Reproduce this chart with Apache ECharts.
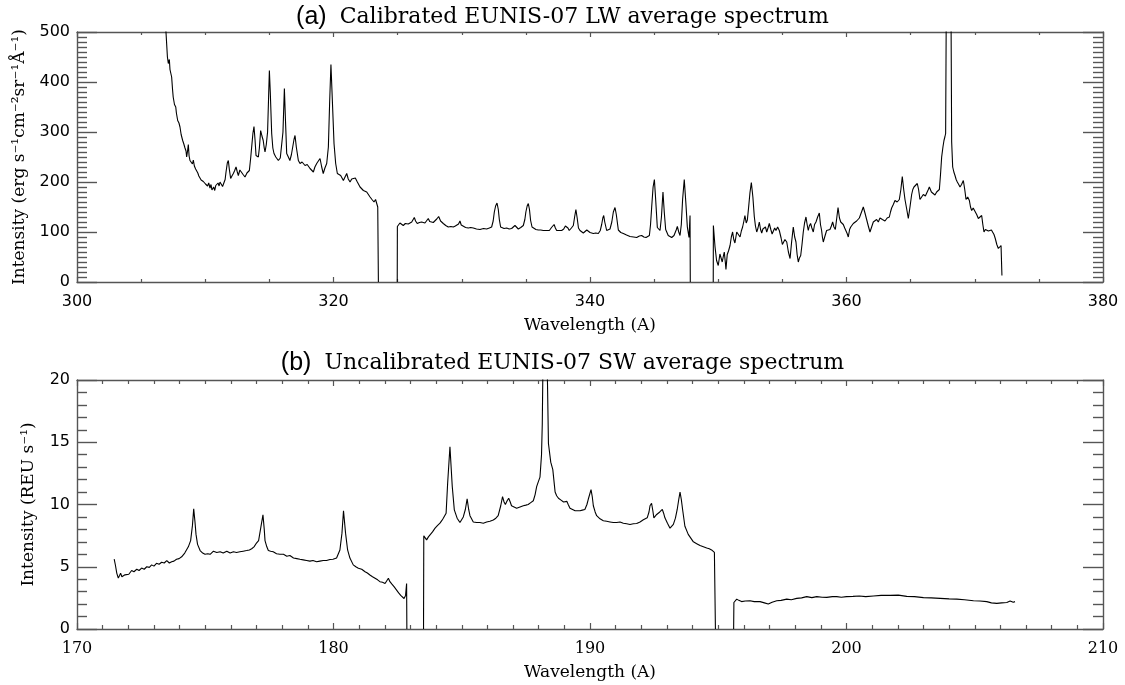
<!DOCTYPE html>
<html>
<head>
<meta charset="utf-8">
<script src="https://cdn.jsdelivr.net/npm/echarts@6/dist/echarts.min.js"></script>
<style>html,body{margin:0;padding:0;background:#fff;}#c{width:1125px;height:685px;}</style>
</head>
<body>
<div id="c"></div>
<script>
// ---------- Panel (a): calibrated LW spectrum ----------
const lwWave = [
306.80,306.94,307.05,307.12,307.20,307.25,307.38,307.45,307.50,307.60,307.70,307.75,307.85,307.95,308.03,308.12,308.24,308.33,308.42,308.50,
308.55,308.62,308.68,308.74,308.81,308.90,309.00,309.07,309.15,309.25,309.33,309.42,309.50,309.59,309.68,309.77,309.85,309.93,310.02,310.10,
310.18,310.27,310.37,310.45,310.52,310.58,310.66,310.74,310.82,310.90,311.00,311.08,311.15,311.25,311.35,311.46,311.55,311.62,311.72,311.80,
311.88,311.98,312.08,312.19,312.28,312.40,312.50,312.58,312.70,312.84,312.95,313.10,313.25,313.44,313.55,313.62,313.72,313.80,313.88,313.96,
314.05,314.14,314.22,314.32,314.42,314.52,314.60,314.66,314.76,314.86,314.94,315.00,315.07,315.18,315.27,315.36,315.50,315.70,315.85,315.96,
316.06,316.17,316.26,316.35,316.48,316.60,316.72,316.82,316.92,317.00,317.10,317.26,317.39,317.55,317.78,317.95,318.17,318.30,318.43,318.55,
318.69,318.82,318.95,319.08,319.20,319.33,319.47,319.60,319.70,319.80,319.90,320.04,320.17,320.30,320.43,320.56,320.66,320.77,320.90,321.03,
321.15,321.29,321.42,321.55,321.70,321.86,321.96,322.07,322.20,322.33,322.45,322.59,322.72,322.85,323.00,323.16,323.28,323.37,323.45,323.50,
324.20,324.97,324.98,325.18,325.30,325.44,325.60,325.83,325.96,326.10,326.20,326.30,326.40,326.53,326.70,326.87,327.00,327.13,327.26,327.39,
327.50,327.65,327.78,327.90,328.05,328.20,328.35,328.56,328.75,328.95,329.15,329.34,329.50,329.62,329.75,329.86,329.96,330.07,330.30,330.51,
330.70,330.90,331.15,331.42,331.70,331.94,332.15,332.33,332.45,332.54,332.64,332.75,332.85,332.93,333.03,333.11,333.30,333.50,333.70,333.89,
334.02,334.15,334.28,334.41,334.60,334.80,334.92,335.00,335.10,335.19,335.28,335.37,335.48,335.58,335.78,335.97,336.16,336.36,336.60,336.83,
336.92,337.00,337.10,337.20,337.30,337.40,337.60,337.79,337.95,338.08,338.18,338.28,338.38,338.55,338.70,338.80,338.90,339.00,339.10,339.22,
339.35,339.48,339.62,339.75,339.87,340.00,340.26,340.45,340.65,340.80,340.91,341.00,341.07,341.15,341.30,341.45,341.56,341.70,341.82,341.95,
342.05,342.21,342.40,342.60,342.85,343.12,343.40,343.64,343.85,344.03,344.20,344.37,344.50,344.63,344.72,344.81,344.92,345.02,345.12,345.25,
345.36,345.46,345.57,345.69,345.79,345.90,346.10,346.37,346.55,346.63,346.72,346.81,346.92,347.02,347.12,347.22,347.35,347.47,347.59,347.72,
347.80,347.82,348.70,349.61,349.62,349.75,349.87,350.00,350.13,350.22,350.31,350.40,350.47,350.55,350.60,350.70,350.80,350.92,351.02,351.12,
351.21,351.30,351.44,351.55,351.70,351.80,351.90,352.00,352.08,352.18,352.27,352.37,352.47,352.58,352.70,352.81,352.90,353.00,353.10,353.20,
353.30,353.39,353.48,353.57,353.68,353.78,353.88,353.98,354.10,354.20,354.29,354.40,354.50,354.63,354.76,354.90,355.00,355.07,355.20,355.34,
355.47,355.60,355.72,355.85,355.96,356.06,356.15,356.24,356.33,356.43,356.53,356.63,356.73,356.84,356.93,357.02,357.10,357.20,357.30,357.41,
357.51,357.62,357.75,357.88,357.97,358.06,358.12,358.19,358.30,358.45,358.58,358.71,358.82,358.92,359.02,359.13,359.24,359.34,359.45,359.55,
359.65,359.75,359.86,359.96,360.05,360.14,360.24,360.33,360.43,360.53,360.66,360.79,360.92,361.00,361.10,361.20,361.31,361.44,361.57,361.70,
361.83,361.96,362.09,362.22,362.35,362.48,362.61,362.80,363.00,363.17,363.34,363.43,363.52,363.65,363.78,363.95,364.12,364.24,364.35,364.46,
364.56,364.70,364.82,364.95,365.08,365.17,365.26,365.40,365.52,365.62,365.73,365.86,365.99,366.15,366.30,366.38,366.46,366.62,366.77,366.90,
367.03,367.14,367.24,367.33,367.42,367.52,367.60,367.67,367.73,367.85,368.08,368.20,368.28,368.37,368.46,368.55,368.64,368.75,368.85,368.97,
369.11,369.22,369.32,369.45,369.58,369.67,369.76,369.88,370.02,370.15,370.28,370.41,370.54,370.63,370.72,370.83,370.93,371.06,371.19,371.30,
371.40,371.50,371.60,371.72,371.84,371.95,372.05,372.12
];
const lwFlux = [
560,499,450,437,445,425,410,385,370,355,350,338,323,318,310,295,283,276,268,262,
250,262,275,252,243,240,236,244,232,226,223,218,212,210,204,208,201,205,196,200,
192,198,188,195,184,180,190,183,193,190,198,192,200,196,191,187,205,220,238,243,
225,207,212,217,222,230,220,213,224,227,215,210,218,223,250,270,298,311,285,253,
255,250,268,303,292,283,268,260,275,300,370,423,380,297,268,257,250,243,248,250,
300,387,320,257,250,243,255,270,285,293,270,243,237,240,233,235,227,224,220,230,
237,240,247,230,217,228,237,270,360,435,370,277,237,217,220,213,210,203,210,217,
206,200,206,203,208,200,196,190,188,183,185,180,176,170,165,160,165,163,150,0,
null,0,111,118,114,113,117,116,114,120,124,129,122,117,119,120,116,118,122,127,
121,118,119,121,126,131,122,117,113,110,111,110,112,111,116,122,114,110,109,108,
109,108,106,105,107,106,108,110,122,140,152,158,145,125,110,106,107,108,106,107,
110,113,109,106,109,113,125,140,152,157,145,123,110,106,105,104,104,103,103,103,
106,109,113,115,108,103,103,103,106,112,116,108,103,108,113,130,145,128,108,103,
99,98,101,104,103,99,97,98,97,103,115,128,133,120,103,103,106,120,140,149,
135,104,99,97,94,91,90,89,92,93,90,89,91,93,115,150,190,205,165,109,
105,103,130,180,140,105,93,89,93,96,104,111,100,93,115,165,205,160,110,89,
133,0,null,0,113,70,43,33,56,48,40,52,60,40,25,55,62,73,90,100,
85,78,100,96,90,102,110,122,133,118,124,150,178,199,170,131,112,100,108,120,
105,98,106,103,110,100,108,117,105,96,98,108,103,110,103,88,75,73,85,80,
60,47,80,110,90,80,55,40,48,53,75,100,118,130,115,103,112,117,108,100,
115,120,130,138,115,103,90,80,90,103,100,105,112,120,110,105,128,149,128,120,
117,115,108,105,97,90,105,110,113,117,120,122,125,128,135,142,150,138,125,112,
100,110,120,118,125,120,128,125,122,128,130,140,148,155,163,160,165,185,211,185,
165,145,127,150,175,185,190,193,197,185,165,170,175,172,175,185,190,180,178,174,
180,176,185,215,250,270,283,290,297,900,900,280,230,220,213,205,200,195,190,195,
203,185,165,170,163,150,143,148,145,135,127,130,133,115,100,105,107,102,100,104,
107,95,87,75,67,70,73,13
];
const lwXRange = [300, 380];
const lwYRange = [0, 500];

// ---------- Panel (b): uncalibrated SW spectrum ----------
const swWave = [
171.45,171.50,171.55,171.61,171.66,171.70,171.75,171.80,171.87,171.94,172.02,172.13,172.22,172.33,172.42,172.52,172.62,172.72,172.82,172.91,
173.00,173.10,173.20,173.30,173.40,173.50,173.60,173.69,173.78,173.88,173.98,174.08,174.20,174.34,174.43,174.50,174.55,174.60,174.64,174.70,
174.80,174.90,174.99,175.10,175.19,175.32,175.45,175.58,175.70,175.84,175.97,176.10,176.22,176.35,176.48,176.61,176.72,176.81,176.90,176.98,
177.08,177.17,177.25,177.30,177.33,177.40,177.46,177.55,177.65,177.78,177.91,178.05,178.18,178.30,178.44,178.57,178.69,178.82,178.95,179.08,
179.20,179.34,179.47,179.60,179.73,179.86,179.98,180.12,180.25,180.33,180.39,180.47,180.55,180.64,180.77,180.87,180.97,181.10,181.23,181.32,
181.42,181.52,181.62,181.72,181.81,181.91,182.01,182.08,182.14,182.20,182.27,182.36,182.46,182.54,182.62,182.69,182.75,182.81,182.85,182.86,
183.20,183.51,183.52,183.63,183.70,183.76,183.86,183.96,184.05,184.15,184.22,184.28,184.39,184.45,184.54,184.63,184.71,184.82,184.93,185.06,
185.14,185.21,185.27,185.32,185.45,185.58,185.71,185.84,185.97,186.10,186.23,186.33,186.42,186.52,186.59,186.65,186.70,186.77,186.83,186.89,
186.94,187.04,187.14,187.27,187.40,187.50,187.59,187.69,187.79,187.86,187.92,187.98,188.05,188.11,188.14,188.18,188.31,188.38,188.47,188.55,
188.60,188.64,188.70,188.77,188.87,188.97,189.04,189.10,189.15,189.22,189.32,189.42,189.52,189.61,189.70,189.80,189.88,189.93,190.04,190.09,
190.13,190.20,190.26,190.39,190.52,190.65,190.78,190.91,191.04,191.17,191.30,191.43,191.56,191.69,191.82,191.95,192.08,192.23,192.30,192.34,
192.40,192.45,192.49,192.55,192.60,192.72,192.82,192.87,192.92,193.02,193.12,193.25,193.33,193.40,193.46,193.51,193.56,193.61,193.70,193.83,
193.93,194.03,194.16,194.29,194.42,194.55,194.65,194.74,194.80,194.85,194.89,195.20,195.60,195.61,195.72,195.80,195.91,196.05,196.24,196.40,
196.63,196.80,196.95,197.10,197.28,197.45,197.67,197.85,198.06,198.25,198.45,198.65,198.84,199.05,199.23,199.45,199.62,199.80,200.00,200.25,
200.50,200.75,201.05,201.35,201.70,202.02,202.35,202.65,203.00,203.30,203.65,204.00,204.30,204.60,204.95,205.20,205.47,205.65,205.86,206.05,
206.25,206.38,206.44,206.50,206.57
];
const swFlux = [
5.61,5.1,4.49,4.09,4.3,4.49,4.2,4.09,4.35,4.49,4.4,4.7,4.6,4.8,4.7,4.89,4.8,5.0,4.95,5.15,
5.05,5.28,5.2,5.36,5.3,5.5,5.3,5.4,5.45,5.6,5.65,5.8,6.1,6.6,7.1,8.3,9.65,8.6,7.6,6.8,
6.3,6.1,6.0,6.05,6.0,6.25,6.15,6.2,6.1,6.25,6.1,6.2,6.15,6.2,6.25,6.3,6.35,6.45,6.6,6.85,
7.1,8.2,9.17,8.0,7.1,6.6,6.3,6.25,6.2,6.05,6.0,6.0,5.85,5.9,5.7,5.65,5.6,5.55,5.5,5.45,
5.5,5.4,5.45,5.5,5.5,5.58,5.6,5.7,6.35,7.7,9.5,7.7,6.35,5.7,5.15,5.0,4.88,4.8,4.6,4.5,
4.34,4.2,4.08,3.95,3.8,3.75,3.66,3.8,4.08,3.8,3.62,3.4,3.12,2.9,2.7,2.55,2.45,2.7,3.66,0,
null,0,7.48,7.16,7.4,7.56,7.8,8.1,8.3,8.5,8.7,8.9,9.3,11.7,14.64,11.44,9.57,8.9,8.55,9.0,
9.6,10.45,9.6,9.1,8.6,8.55,8.55,8.5,8.6,8.65,8.75,8.9,9.1,9.9,10.64,10.2,10.0,10.3,10.5,10.2,
9.9,9.8,9.7,9.8,9.9,9.95,10.0,10.15,10.3,10.8,11.44,11.8,12.2,14.0,16.5,24,24,14.9,13.4,12.8,
11.8,11.0,10.7,10.5,10.35,10.2,10.15,10.25,10.0,9.7,9.6,9.5,9.5,9.5,9.55,9.6,10.0,10.4,11.2,10.6,
9.9,9.4,9.1,8.85,8.7,8.65,8.6,8.55,8.55,8.6,8.5,8.45,8.4,8.45,8.47,8.6,8.77,8.93,9.4,9.9,
10.1,9.5,8.93,9.0,9.2,9.4,9.6,9.3,8.93,8.5,8.1,8.4,8.9,9.6,10.4,11.0,10.4,9.6,8.25,7.6,
7.3,7.0,6.85,6.7,6.6,6.5,6.45,6.35,6.3,6.15,0,null,0,2.13,2.4,2.3,2.2,2.25,2.27,2.2,
2.2,2.1,2.0,2.15,2.27,2.3,2.4,2.35,2.46,2.5,2.6,2.52,2.6,2.55,2.54,2.6,2.6,2.55,2.6,2.62,
2.65,2.6,2.65,2.7,2.7,2.72,2.62,2.6,2.52,2.5,2.46,2.42,2.4,2.35,2.27,2.25,2.2,2.1,2.06,2.1,
2.13,2.25,2.3,2.15,2.2
];
const swXRange = [170, 210];
const swYRange = [0, 20];

const toPairs = (xs, ys) => xs.map((x, i) => [x, ys[i] === null ? '-' : ys[i]]);

const AX = '#555';
const sans = 'DejaVu Sans';
const serif = 'DejaVu Serif';

function xAxes(grid, range, interval, minorSplit, labelFont, majorLen, minorLen) {
  const common = {
    type: 'value', gridIndex: grid, min: range[0], max: range[1], interval: interval,
    axisLine: { show: true, onZero: false, lineStyle: { color: AX, width: 1.4 } },
    splitLine: { show: false }
  };
  return [
    Object.assign({}, common, {
      position: 'bottom',
      axisTick: { show: true, inside: true, length: majorLen, lineStyle: { color: AX, width: 1.2 } },
      minorTick: { show: true, splitNumber: minorSplit, length: minorLen, lineStyle: { color: AX, width: 1.2 } },
      axisLabel: { show: true, margin: 12, color: '#000', fontFamily: labelFont, fontSize: 16, showMinLabel: true, showMaxLabel: true },
      name: 'Wavelength (A)', nameLocation: 'middle', nameGap: 35,
      nameTextStyle: { color: '#000', fontFamily: serif, fontSize: 17, fontWeight: 'normal' }
    }),
    Object.assign({}, common, {
      position: 'top',
      axisTick: { show: true, inside: true, length: majorLen, lineStyle: { color: AX, width: 1.2 } },
      minorTick: { show: true, splitNumber: minorSplit, length: minorLen, lineStyle: { color: AX, width: 1.2 } },
      axisLabel: { show: false }
    })
  ];
}

function yAxes(grid, range, interval, minorSplit, name) {
  const common = {
    type: 'value', gridIndex: grid, min: range[0], max: range[1], interval: interval,
    axisLine: { show: true, onZero: false, lineStyle: { color: AX, width: 1.4 } },
    splitLine: { show: false },
    axisTick: { show: true, inside: true, length: 20, lineStyle: { color: AX, width: 1.4 } },
    minorTick: { show: true, splitNumber: minorSplit, length: 10, lineStyle: { color: AX, width: 1.4 } }
  };
  return [
    Object.assign({}, common, {
      position: 'left',
      axisLabel: { show: true, margin: 7, color: '#000', fontFamily: sans, fontSize: 16 },
      name: name, nameLocation: 'middle', nameGap: 40, nameRotate: 90,
      nameTextStyle: { color: '#000', fontFamily: serif, fontSize: 17, fontWeight: 'normal' }
    }),
    Object.assign({}, common, { position: 'right', axisLabel: { show: false } })
  ];
}

function titleRich(tag, text, top) {
  return {
    text: '{p|' + tag + '}{t|' + text + '}',
    left: 'center', top: top,
    textStyle: {
      fontWeight: 'normal',
      rich: {
        p: { fontFamily: 'Liberation Sans', fontSize: 25, fontWeight: 'normal', color: '#000', padding: [0, 13, 0, 0] },
        t: { fontFamily: serif, fontSize: 22, fontWeight: 'normal', color: '#000', padding: [0, 0, 1, 0] }
      }
    }
  };
}

const chart = echarts.init(document.getElementById('c'), null, { renderer: 'canvas' });
chart.setOption({
  animation: false,
  backgroundColor: '#fff',
  title: [
    titleRich('(a)', 'Calibrated EUNIS-07 LW average spectrum', 0),
    titleRich('(b)', 'Uncalibrated EUNIS-07 SW average spectrum', 346)
  ],
  grid: [
    { left: 77, top: 32, width: 1026, height: 250 },
    { left: 77, top: 380, width: 1026, height: 249 }
  ],
  xAxis: [].concat(
    xAxes(0, lwXRange, 20, 4, sans, 5, 3),
    xAxes(1, swXRange, 10, 10, serif, 6, 4)
  ),
  yAxis: [].concat(
    yAxes(0, lwYRange, 100, 10, 'Intensity (erg s\u207B\u00B9cm\u207B\u00B2sr\u207B\u00B9\u00C5\u207B\u00B9)'),
    yAxes(1, swYRange, 5, 5, 'Intensity (REU s\u207B\u00B9)')
  ),
  series: [
    {
      type: 'line', xAxisIndex: 0, yAxisIndex: 0, data: toPairs(lwWave, lwFlux),
      showSymbol: false, connectNulls: false, clip: true,
      lineStyle: { color: '#000', width: 1.1 }
    },
    {
      type: 'line', xAxisIndex: 2, yAxisIndex: 2, data: toPairs(swWave, swFlux),
      showSymbol: false, connectNulls: false, clip: true,
      lineStyle: { color: '#000', width: 1.1 }
    }
  ]
});
</script>
</body>
</html>
